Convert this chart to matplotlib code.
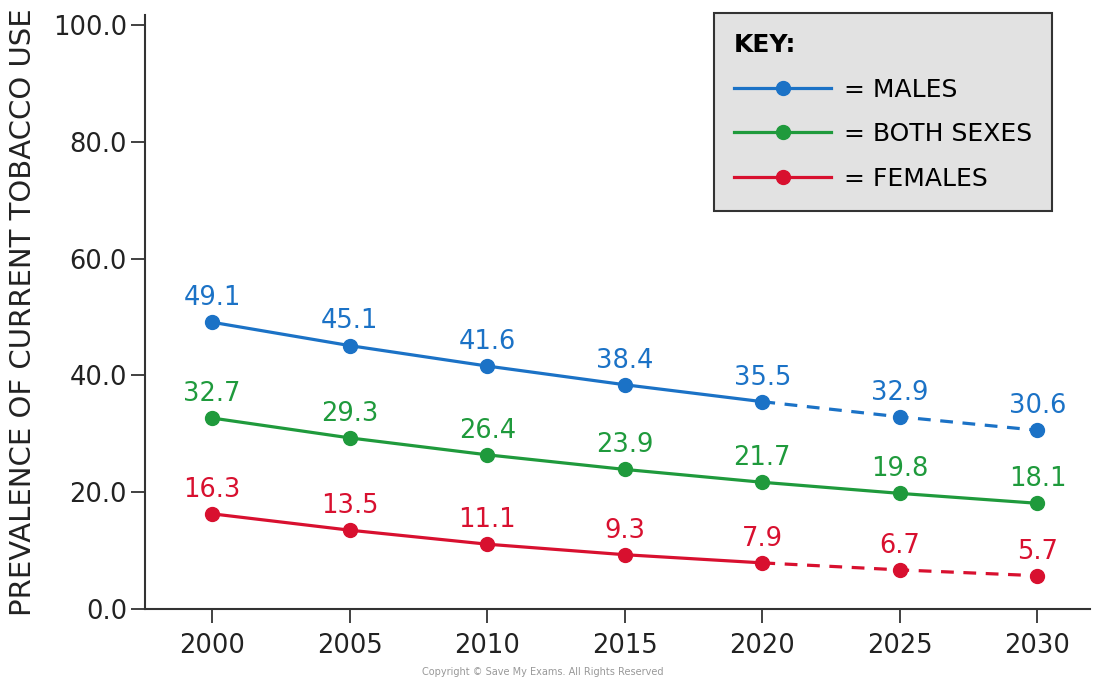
import matplotlib.pyplot as plt
from matplotlib.lines import Line2D

# data
years = [2000, 2005, 2010, 2015, 2020, 2025, 2030]
males = [49.1, 45.1, 41.6, 38.4, 35.5, 32.9, 30.6]
both = [32.7, 29.3, 26.4, 23.9, 21.7, 19.8, 18.1]
females = [16.3, 13.5, 11.1, 9.3, 7.9, 6.7, 5.7]
y_ticks = [0, 20, 40, 60, 80, 100]

BLUE = '#1b72c6'
GREEN = '#1f9a3c'
RED = '#d8102f'

plt.rcParams['font.family'] = ['DejaVu Sans']

fig = plt.figure(figsize=(10.96, 6.82), dpi=100)
ax = fig.add_axes([0.1323, 0.107, 0.862, 0.871])

# index where the projection (dashed) part starts
split = years.index(2020)

series = [
    (males, BLUE, True),
    (both, GREEN, False),
    (females, RED, True),
]
for vals, col, dashed_tail in series:
    if dashed_tail:
        ax.plot(years[:split + 1], vals[:split + 1], color=col, lw=2.3)
        ax.plot(years[split:], vals[split:], color=col, lw=2.3, ls=(0, (4, 3)))
    else:
        ax.plot(years, vals, color=col, lw=2.3)
    ax.plot(years, vals, 'o', color=col, ms=10, zorder=3)
    for x, v in zip(years, vals):
        ax.annotate(f'{v:.1f}', (x, v), xytext=(0, 8), textcoords='offset points',
                    ha='center', va='bottom', color=col, fontsize=18.5)

ax.set_xlim(1997.56, 2031.9)
ax.set_ylim(0, 101.7)
ax.set_xticks(years)
ax.set_yticks(y_ticks)
ax.set_yticklabels([f'{t:.1f}' for t in y_ticks])
ax.tick_params(axis='both', direction='out', length=10, width=1.3, labelsize=18.5,
               color='#333333', labelcolor='#222222')
ax.tick_params(axis='x', pad=7)
ax.tick_params(axis='y', pad=3)
for s in ['top', 'right']:
    ax.spines[s].set_visible(False)
for s in ['left', 'bottom']:
    ax.spines[s].set_linewidth(1.5)
    ax.spines[s].set_color('#333333')

ax.set_ylabel('PREVALENCE OF CURRENT TOBACCO USE', fontsize=21, color='#222222')
ax.yaxis.set_label_coords(-0.114, 0.50)

handles = [
    Line2D([], [], color=BLUE, lw=2.3, marker='o', ms=10),
    Line2D([], [], color=GREEN, lw=2.3, marker='o', ms=10),
    Line2D([], [], color=RED, lw=2.3, marker='o', ms=10),
]
leg = ax.legend(handles, ['= MALES', '= BOTH SEXES', '= FEMALES'],
                title='KEY:', loc='upper right', bbox_to_anchor=(0.960, 1.003),
                borderaxespad=0,
                fontsize=18, title_fontsize=18, alignment='left',
                frameon=True, fancybox=False, handlelength=3.9,
                handletextpad=0.5, labelspacing=0.82, borderpad=0.8,
                edgecolor='#333333', facecolor='#e2e2e2', framealpha=1)
leg.get_title().set_fontweight('bold')
leg.get_frame().set_linewidth(1.5)

fig.text(0.495, 0.008, 'Copyright © Save My Exams. All Rights Reserved',
         ha='center', va='bottom', fontsize=7, color='#999999')

fig.savefig('out.png', dpi=100)
